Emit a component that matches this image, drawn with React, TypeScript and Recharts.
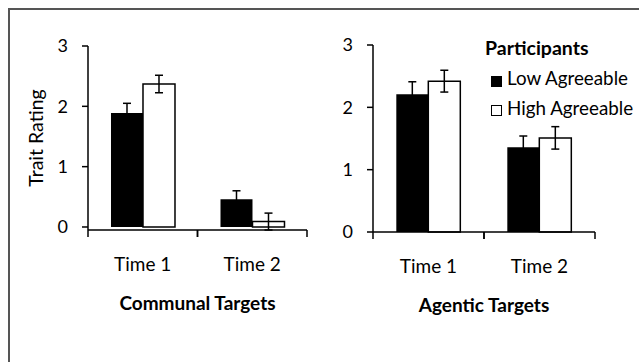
import { Bar, BarChart, ErrorBar, XAxis, YAxis } from "recharts";

const categories = ["Time 1", "Time 2"];
const yTicks = [0, 1, 2, 3];

// Communal targets
const communalLow = [1.89, 0.46];
const communalLowErr = [0.16, 0.14];
const communalHigh = [2.37, 0.09];
const communalHighErr = [0.145, 0.14];

// Agentic targets
const agenticLow = [2.21, 1.36];
const agenticLowErr = [0.2, 0.18];
const agenticHigh = [2.42, 1.51];
const agenticHighErr = [0.175, 0.18];

const FONT = "Lato, 'Open Sans', sans-serif";

function rows(low: number[], lowErr: number[], high: number[], highErr: number[]) {
  return categories.map((c, i) => ({
    name: c,
    low: low[i],
    lowErr: lowErr[i],
    high: high[i],
    highErr: highErr[i],
  }));
}

// x-axis tick: label at the band centre, tick marks at the band edges
function CategoryTick(props: any) {
  const { x, y, payload } = props;
  const half = payload?.offset || 55;
  return (
    <g>
      <line x1={x - half} y1={y} x2={x - half} y2={y + 7} stroke="#000" strokeWidth={1.5} />
      <line x1={x + half} y1={y} x2={x + half} y2={y + 7} stroke="#000" strokeWidth={1.5} />
      <text x={x} y={y + 41} textAnchor="middle" fontSize={19} fill="#000" fontFamily={FONT}>
        {payload.value}
      </text>
    </g>
  );
}

function Panel({
  data,
  margin,
  width,
  height,
  title,
  yLabel,
}: {
  data: any[];
  margin: { top: number; right: number; bottom: number; left: number };
  width: number;
  height: number;
  title: string;
  yLabel?: string;
}) {
  return (
    <BarChart
      width={width}
      height={height}
      data={data}
      margin={margin}
      barGap={0}
      barCategoryGap="21%"
    >
      <XAxis
        dataKey="name"
        axisLine={{ stroke: "#000", strokeWidth: 1.5 }}
        tickLine={false}
        tickSize={0}
        tickMargin={0}
        tick={<CategoryTick />}
        height={30}
        interval={0}
        label={{
          content: (p: any) => {
            const vb = p.viewBox || {};
            return (
              <text
                x={(vb.x ?? 0) + (vb.width ?? 0) / 2}
                y={(vb.y ?? 0) + 80}
                textAnchor="middle"
                fontSize={19}
                fontWeight={700}
                fill="#000"
                fontFamily={FONT}
              >
                {title}
              </text>
            );
          },
        }}
      />
      <YAxis
        domain={[0, 3]}
        ticks={yTicks}
        width={30}
        axisLine={{ stroke: "#000", strokeWidth: 1.5 }}
        tickLine={{ stroke: "#000", strokeWidth: 1.5 }}
        tickSize={6}
        tickMargin={14}
        tick={{ fontSize: 18, fill: "#000", fontFamily: FONT }}
        label={
          yLabel
            ? {
                content: (p: any) => {
                  const vb = p.viewBox || {};
                  const cx = (vb.x ?? 0) - 23;
                  const cy = (vb.y ?? 0) + (vb.height ?? 0) / 2;
                  return (
                    <text
                      x={cx}
                      y={cy}
                      transform={`rotate(-90, ${cx}, ${cy})`}
                      textAnchor="middle"
                      dominantBaseline="central"
                      fontSize={19.5}
                      fill="#000"
                      fontFamily={FONT}
                    >
                      {yLabel}
                    </text>
                  );
                },
              }
            : undefined
        }
      />
      <Bar dataKey="low" fill="#000" isAnimationActive={false}>
        <ErrorBar dataKey="lowErr" width={4} stroke="#000" strokeWidth={1.5} />
      </Bar>
      <Bar dataKey="high" fill="#fff" stroke="#000" strokeWidth={1.5} isAnimationActive={false}>
        <ErrorBar dataKey="highErr" width={4} stroke="#000" strokeWidth={1.5} />
      </Bar>
    </BarChart>
  );
}

export default function App() {
  const communal = rows(communalLow, communalLowErr, communalHigh, communalHighErr);
  const agentic = rows(agenticLow, agenticLowErr, agenticHigh, agenticHighErr);

  return (
    <div
      style={{
        position: "fixed",
        left: 0,
        top: 0,
        width: 639,
        height: 362,
        background: "#fff",
        overflow: "hidden",
        fontFamily: FONT,
      }}
    >
      {/* frame */}
      <div
        style={{
          position: "absolute",
          left: 8,
          top: 8,
          width: 640,
          height: 360,
          borderTop: "2px solid #555",
          borderLeft: "2px solid #555",
        }}
      />

      <div style={{ position: "absolute", left: 0, top: 0 }}>
        <Panel
          data={communal}
          title="Communal Targets"
          width={320}
          height={362}
          margin={{ top: 46, right: 13, bottom: 102, left: 58 }}
          yLabel="Trait Rating"
        />
      </div>

      <div style={{ position: "absolute", left: 320, top: 0 }}>
        <Panel
          data={agentic}
          title="Agentic Targets"
          width={319}
          height={362}
          margin={{ top: 45, right: 44, bottom: 100, left: 23 }}
        />
      </div>

      {/* legend */}
      <div
        style={{
          position: "absolute",
          left: 485,
          top: 33,
          fontSize: 19.5,
          lineHeight: "30px",
          fontWeight: 700,
          whiteSpace: "nowrap",
        }}
      >
        Participants
      </div>
      <div
        style={{
          position: "absolute",
          left: 491,
          top: 76,
          width: 9,
          height: 9,
          background: "#000",
          border: "1.5px solid #000",
        }}
      />
      <div
        style={{
          position: "absolute",
          left: 507,
          top: 63,
          fontSize: 18.8,
          lineHeight: "30px",
          whiteSpace: "nowrap",
        }}
      >
        Low Agreeable
      </div>
      <div
        style={{
          position: "absolute",
          left: 491,
          top: 105,
          width: 9,
          height: 9,
          background: "#fff",
          border: "1.5px solid #000",
        }}
      />
      <div
        style={{
          position: "absolute",
          left: 507,
          top: 93,
          fontSize: 18.8,
          lineHeight: "30px",
          whiteSpace: "nowrap",
        }}
      >
        High Agreeable
      </div>
    </div>
  );
}
